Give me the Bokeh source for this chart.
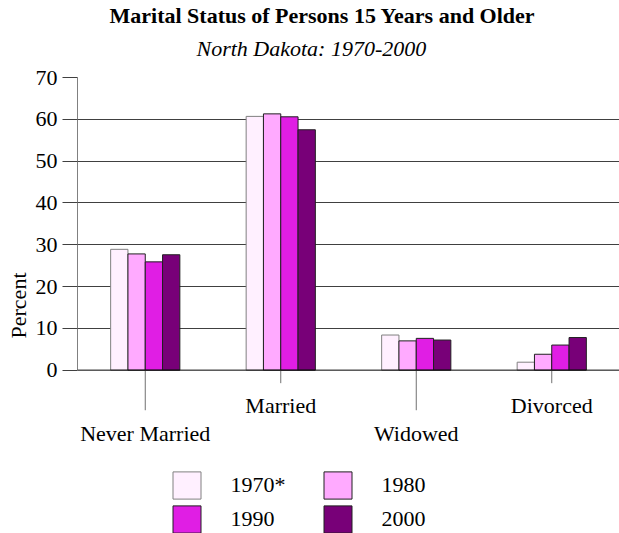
from bokeh.plotting import figure
from bokeh.models import (ColumnDataSource, FactorRange, Range1d, LinearAxis, SingleIntervalTicker,
                          Grid, Span, Legend, LegendItem, Title)
from bokeh.transform import dodge
from bokeh.core.properties import value
from bokeh.embed import file_html
from bokeh.resources import INLINE

categories = ["Never Married", "Married", "Widowed", "Divorced"]
years = ["1970*", "1980", "1990", "2000"]
v1970 = [28.9, 60.7, 8.4, 1.9]
v1980 = [27.8, 61.3, 7.0, 3.8]
v1990 = [25.9, 60.6, 7.6, 6.0]
v2000 = [27.6, 57.5, 7.2, 7.8]
colors = ["#FFF0FF", "#FFAAFF", "#E01EE4", "#780078"]
outline = ["#808080", "#202020", "#202020", "#202020"]

FONT = "Liberation Serif"
FS = "22px"
W, H = 619, 533
LEFT, TOP = 77, 78
ZERO_PX = 370            # figure-pixel row of y = 0
YMAX = 70
px_per_unit = (ZERO_PX - TOP) / YMAX
y_start = -(H - ZERO_PX) / px_per_unit

source = ColumnDataSource(dict(cat=categories, v1970=v1970, v1980=v1980, v1990=v1990, v2000=v2000))

p = figure(width=W, height=H, x_range=FactorRange(factors=categories, range_padding=0),
           y_range=Range1d(y_start, YMAX), x_axis_type=None, y_axis_type=None,
           output_backend="svg", toolbar_location=None, title=None,
           min_border_left=LEFT, min_border_right=0, min_border_bottom=0, min_border_top=0)
p.outline_line_color = None
p.background_fill_color = "white"
p.border_fill_color = "white"

# titles (first added sits nearest the plot); a small white spacer sets the gap
p.add_layout(Title(text=".", text_font=FONT, text_font_size="8px", text_color="white",
                   align="left", standoff=3), "above")
p.add_layout(Title(text="North Dakota: 1970-2000", text_font=FONT, text_font_size=FS,
                   text_font_style="italic", text_color="black", align="left", offset=119,
                   standoff=12), "above")
p.add_layout(Title(text="Marital Status of Persons 15 Years and Older", text_font=FONT,
                   text_font_size=FS, text_font_style="bold", text_color="black", align="left",
                   offset=32, standoff=0), "above")

# grid
grid = Grid(dimension=1, ticker=SingleIntervalTicker(interval=10), bounds=(10, 60),
            grid_line_color="#404040", grid_line_width=1)
p.add_layout(grid, "center")

# bars
w = 17.3 / ((W - LEFT) / len(categories))
fields = ["v1970", "v1980", "v1990", "v2000"]
renderers = []
for i, (f, c, oc) in enumerate(zip(fields, colors, outline)):
    r = p.vbar(x=dodge("cat", (i - 1.5) * w, range=p.x_range), top=f, bottom=0, width=w,
               source=source, fill_color=c, line_color=oc, line_width=1)
    renderers.append(r)

# baseline
p.add_layout(Span(location=0, dimension="width", line_color="black", line_width=1))

# category ticks and labels (alternating depth)
tick_px = [40 if i % 2 == 0 else 13 for i in range(len(categories))]
label_px = [63 if i % 2 == 0 else 35 for i in range(len(categories))]
lab = ColumnDataSource(dict(cat=categories, y0=[0] * len(categories),
                            y1=[-t / px_per_unit for t in tick_px], off=label_px))
p.segment(x0="cat", y0="y0", x1="cat", y1="y1", source=lab, line_color="#707070", line_width=1)
p.text(x="cat", y="y0", text="cat", y_offset="off", source=lab, text_align="center",
       text_baseline="middle", text_font=value(FONT), text_font_size=FS, text_color="black")

# y axis
yaxis = LinearAxis(bounds=(0, 70), ticker=SingleIntervalTicker(interval=10),
                   axis_label="Percent", axis_label_text_font=FONT,
                   axis_label_text_font_size=FS, axis_label_text_font_style="normal",
                   axis_label_text_color="black",
                   major_label_text_font=FONT, major_label_text_font_size=FS,
                   major_label_text_color="black",
                   axis_line_color="#808080", major_tick_line_color="#404040",
                   major_tick_out=15, major_tick_in=0, minor_tick_out=0, minor_tick_in=0,
                   major_label_standoff=5, axis_label_standoff=2)
p.add_layout(yaxis, "left")

legend = Legend(items=[LegendItem(label=y, renderers=[r]) for y, r in zip(years, renderers)],
                location=(91.5, -3), orientation="horizontal", ncols=2,
                glyph_width=35, glyph_height=34, label_standoff=27, label_width=89, spacing=0,
                padding=0, margin=0, border_line_color=None, background_fill_alpha=0,
                label_text_font=FONT, label_text_font_size=FS, label_text_color="black")
p.add_layout(legend)

open("out.html", "w").write(file_html(p, INLINE))
